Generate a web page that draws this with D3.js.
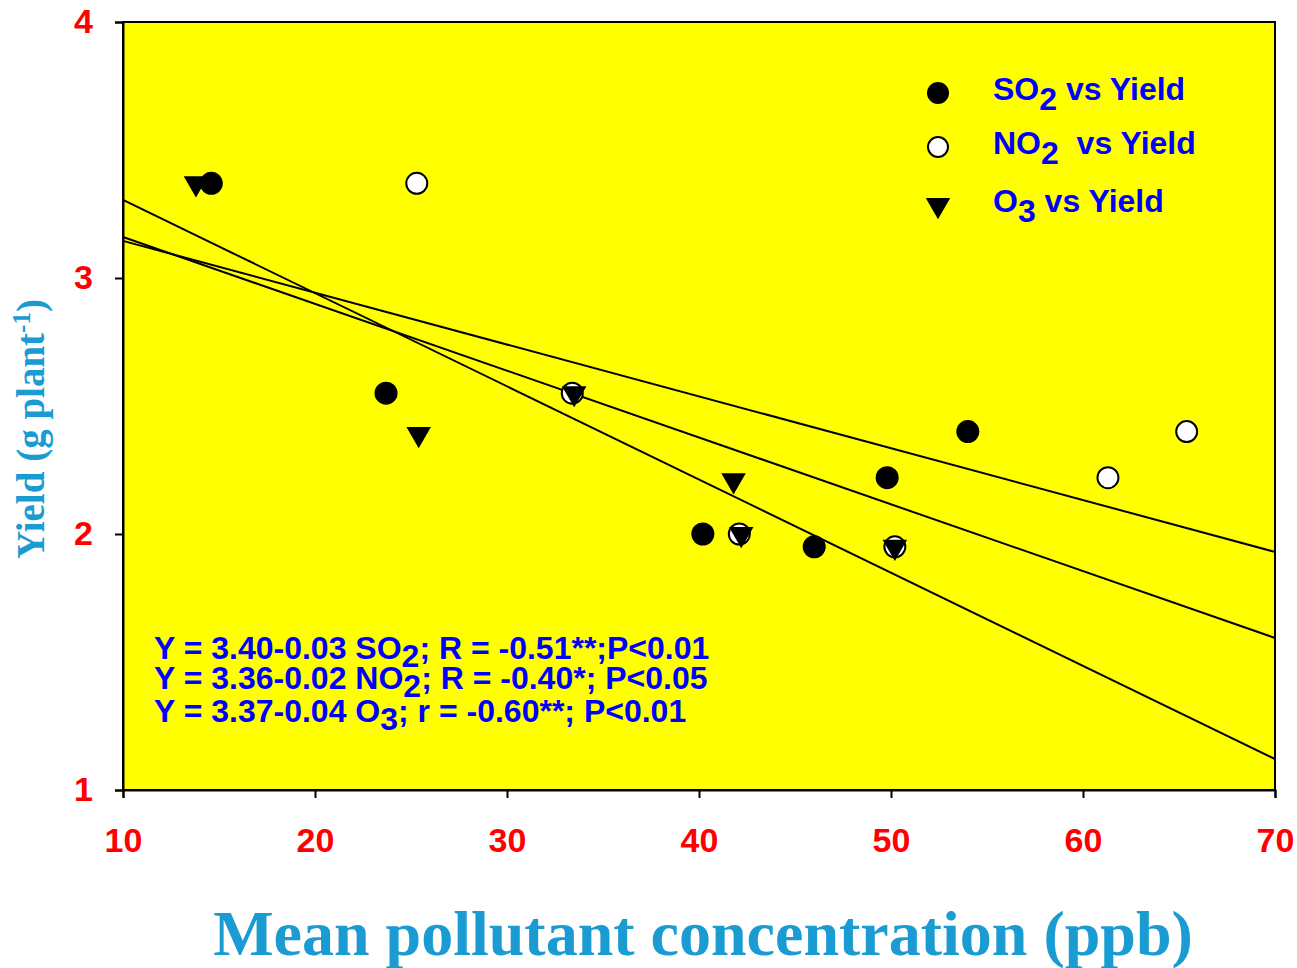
<!DOCTYPE html>
<html>
<head>
<meta charset="utf-8">
<script src="https://cdn.jsdelivr.net/npm/d3@7"></script>
<style>
  body { margin: 0; background: #fff; }
</style>
</head>
<body>
<div id="chart"></div>
<script>
// data
const so2X = [14.6, 23.7, 40.2, 46.0, 49.8, 54.0];
const so2Y = [3.37, 2.55, 2.00, 1.95, 2.22, 2.40];
const no2X = [25.3, 33.4, 42.1, 50.2, 61.3, 65.4];
const no2Y = [3.37, 2.55, 2.00, 1.95, 2.22, 2.40];
const o3X = [13.8, 25.4, 33.5, 41.8, 42.2, 50.2];
const o3Y = [3.37, 2.39, 2.55, 2.21, 2.00, 1.95];

// fitted lines, values at x = 10 and x = 70
const fitX = [10, 70];
const fitSteep = [3.305, 1.121];
const fitMid = [3.160, 1.594];
const fitFlat = [3.145, 1.930];

const xTicks = [10, 20, 30, 40, 50, 60, 70];
const yTicks = [1, 2, 3, 4];

const margin = {top: 22, right: 22, bottom: 178, left: 123},
    width = 1297 - margin.left - margin.right,
    height = 968 - margin.top - margin.bottom;

const svg = d3.select("#chart")
  .append("svg")
    .attr("width", 1297)
    .attr("height", 968)
  .append("g")
    .attr("transform", `translate(${margin.left}, ${margin.top})`);

const x = d3.scaleLinear().domain([10, 70]).range([0, width]);
const y = d3.scaleLinear().domain([1, 4]).range([height, 0]);

// plot background
svg.append("rect")
  .attr("width", width)
  .attr("height", height)
  .attr("fill", "#ffff00")
  .attr("stroke", "#000")
  .attr("stroke-width", 2);

// axes
const xAxis = svg.append("g")
  .attr("transform", `translate(0, ${height})`)
  .call(d3.axisBottom(x).tickValues(xTicks).tickSize(8).tickPadding(30).tickFormat(d3.format("d")));
const yAxis = svg.append("g")
  .call(d3.axisLeft(y).tickValues(yTicks).tickSize(8).tickPadding(22).tickFormat(d3.format("d")));

[xAxis, yAxis].forEach(a => {
  a.select(".domain").attr("stroke-width", 2);
  a.selectAll(".tick line").attr("stroke-width", 2);
  a.selectAll("text")
    .attr("fill", "#ff0000")
    .style("font-family", "Liberation Sans, Arial, sans-serif")
    .style("font-weight", "bold")
    .style("font-size", "34px");
});

// regression lines
const line = d3.line().x(d => x(d[0])).y(d => y(d[1]));
[fitSteep, fitMid, fitFlat].forEach(f => {
  svg.append("path")
    .datum(fitX.map((v, i) => [v, f[i]]))
    .attr("d", line)
    .attr("fill", "none")
    .attr("stroke", "#000")
    .attr("stroke-width", 2);
});

const tri = d3.symbol().type(d3.symbolTriangle).size(260);

// NO2 open circles
svg.selectAll(".no2")
  .data(no2X.map((v, i) => [v, no2Y[i]]))
  .join("circle")
    .attr("cx", d => x(d[0]))
    .attr("cy", d => y(d[1]))
    .attr("r", 10.5)
    .attr("fill", "#fff")
    .attr("stroke", "#000")
    .attr("stroke-width", 2);

// O3 down triangles
svg.selectAll(".o3")
  .data(o3X.map((v, i) => [v, o3Y[i]]))
  .join("path")
    .attr("d", tri)
    .attr("transform", d => `translate(${x(d[0])}, ${y(d[1])}) rotate(180)`)
    .attr("fill", "#000");

// SO2 filled circles
svg.selectAll(".so2")
  .data(so2X.map((v, i) => [v, so2Y[i]]))
  .join("circle")
    .attr("cx", d => x(d[0]))
    .attr("cy", d => y(d[1]))
    .attr("r", 11.5)
    .attr("fill", "#000");

// legend
const legend = svg.append("g").attr("transform", "translate(815, 0)");
const legItems = [
  {k: "so2", main: "SO", sub: "2", rest: " vs Yield"},
  {k: "no2", main: "NO", sub: "2", rest: "  vs Yield"},
  {k: "o3", main: "O", sub: "3", rest: " vs Yield"}
];
const legY = [71, 125, 183];
legItems.forEach((it, i) => {
  const gy = legY[i];
  if (it.k === "so2") {
    legend.append("circle").attr("cx", 0).attr("cy", gy).attr("r", 11).attr("fill", "#000");
  } else if (it.k === "no2") {
    legend.append("circle").attr("cx", 0).attr("cy", gy).attr("r", 10).attr("fill", "#fff")
      .attr("stroke", "#000").attr("stroke-width", 2);
  } else {
    legend.append("path").attr("d", tri)
      .attr("transform", `translate(0, ${gy}) rotate(180)`).attr("fill", "#000");
  }
  const t = legend.append("text")
    .attr("x", 55)
    .attr("y", gy + 7)
    .attr("fill", "#0000ff")
    .style("font-family", "Liberation Sans, Arial, sans-serif")
    .style("font-weight", "bold")
    .style("font-size", "32px")
    .style("white-space", "pre")
    .attr("xml:space", "preserve");
  t.append("tspan").text(it.main);
  t.append("tspan").attr("dy", 10).text(it.sub);
  t.append("tspan").attr("dy", -10).text(it.rest);
});

// equations
const eqs = [
  ["Y = 3.40-0.03 SO", "2", "; R = -0.51**;P<0.01"],
  ["Y = 3.36-0.02 NO", "2", "; R = -0.40*; P<0.05"],
  ["Y = 3.37-0.04 O", "3", "; r = -0.60**; P<0.01"]
];
const eqY = [637, 667, 700];
eqs.forEach((e, i) => {
  const t = svg.append("text")
    .attr("x", 31)
    .attr("y", eqY[i])
    .attr("fill", "#0000ff")
    .style("font-family", "Liberation Sans, Arial, sans-serif")
    .style("font-weight", "bold")
    .style("font-size", "32px");
  t.append("tspan").text(e[0]);
  t.append("tspan").attr("dy", 8).text(e[1]);
  t.append("tspan").attr("dy", -8).text(e[2]);
});

// axis titles
svg.append("text")
  .attr("text-anchor", "middle")
  .attr("x", width / 2 + 4)
  .attr("y", height + 165)
  .attr("fill", "#1a9cd3")
  .style("font-family", "Liberation Serif, Times New Roman, serif")
  .style("font-weight", "bold")
  .style("font-size", "64px")
  .text("Mean pollutant concentration (ppb)");

const yt = svg.append("text")
  .attr("text-anchor", "middle")
  .attr("transform", `translate(-79, ${y(2.41)}) rotate(-90)`)
  .attr("fill", "#1a9cd3")
  .style("font-family", "Liberation Serif, Times New Roman, serif")
  .style("font-weight", "bold")
  .style("font-size", "39px");
yt.append("tspan").text("Yield (g plant");
yt.append("tspan").attr("dy", -14).style("font-size", "25px").text("-1");
yt.append("tspan").attr("dy", 14).text(")");
</script>
</body>
</html>
